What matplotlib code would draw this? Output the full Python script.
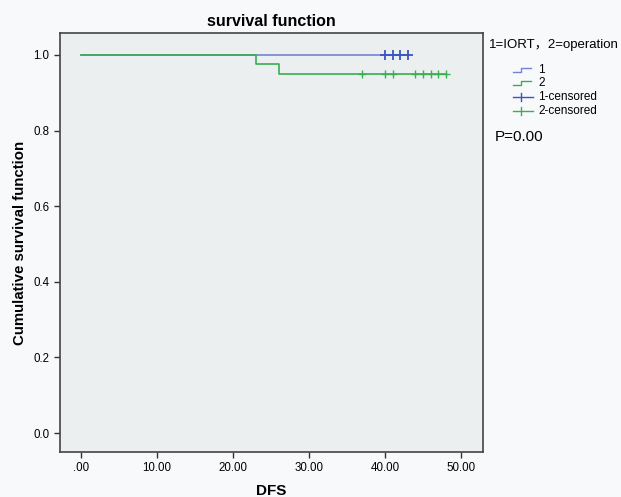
import matplotlib
matplotlib.use('Agg')
import matplotlib.pyplot as plt
from matplotlib.lines import Line2D

plt.rcParams['font.family'] = ['Liberation Sans', 'Noto Sans CJK SC', 'DejaVu Sans']

# Kaplan-Meier steps (time, survival) and censored times
g1_times = [0, 43]
g1_surv = [1.0, 1.0]
g1_cens = [40, 41, 42, 43]

g2_times = [0, 23, 26, 48]
g2_surv = [1.0, 0.975, 0.95, 0.95]
g2_cens = [37, 40, 41, 44, 45, 46, 47, 48]

xticks = [0, 10, 20, 30, 40, 50]
xlabels = ['.00', '10.00', '20.00', '30.00', '40.00', '50.00']
yticks = [0.0, 0.2, 0.4, 0.6, 0.8, 1.0]

c1_line = '#7383d6'
c1_mark = '#3a55c0'
c2 = '#3aae52'

fig = plt.figure(figsize=(6.21, 4.97), dpi=100, facecolor='#f8f9fb')
ax = fig.add_axes([0.0966, 0.0905, 0.6812, 0.8431])
ax.set_facecolor('#eceff0')

ax.step(g1_times, g1_surv, where='post', color=c1_line, lw=1.2, zorder=3)
ax.step(g2_times, g2_surv, where='post', color=c2, lw=1.2, zorder=3)
ax.plot(g1_cens, [1.0] * len(g1_cens), ls='none', marker='+', ms=7, mew=1.3, color=c1_mark, zorder=4)
ax.plot(g2_cens, [0.95] * len(g2_cens), ls='none', marker='+', ms=6, mew=1.0, color=c2, zorder=4)

ax.set_xlim(-2.76, 52.9)
ax.set_ylim(-0.05, 1.058)
ax.set_xticks(xticks)
ax.set_xticklabels(xlabels)
ax.set_yticks(yticks)
ax.set_yticklabels([f'{v:.1f}' for v in yticks])
ax.tick_params(direction='out', length=4, width=1, labelsize=8.3, color='#333333')
for s in ax.spines.values():
    s.set_color('#444444')
    s.set_linewidth(1.2)

ax.set_title('survival function', fontsize=11.5, fontweight='bold', pad=5)
ax.set_xlabel('DFS', fontsize=11, fontweight='bold', labelpad=7)
ax.set_ylabel('Cumulative survival function', fontsize=10.8, fontweight='bold', labelpad=5)

# legend drawn by hand, SPSS style
W, H = 621, 497
fig.text(489 / W, 1 - 45 / H, '1=IORT，2=operation', fontsize=9.5, va='center', ha='left')


def fx(p):
    return p / W


def fy(p):
    return 1 - p / H


for yy, col in [(70, c1_line), (83, c2)]:
    xs = [513, 521, 521, 531]
    ys = [yy + 2, yy + 2, yy - 2, yy - 2]
    fig.add_artist(Line2D([fx(v) for v in xs], [fy(v) for v in ys], color=col, lw=1.0))
for yy, col in [(97, c1_mark), (111, c2)]:
    fig.add_artist(Line2D([fx(513), fx(533)], [fy(yy), fy(yy)], color=col, lw=1.0))
    fig.add_artist(Line2D([fx(521), fx(521)], [fy(yy - 4), fy(yy + 4)], color=col, lw=1.0))

for yy, txt in [(70, '1'), (83, '2'), (97, '1-censored'), (111, '2-censored')]:
    fig.text(fx(538), fy(yy), txt, fontsize=8.5, va='center', ha='left')

fig.text(fx(495), fy(137), 'P=0.00', fontsize=11, va='center', ha='left')

fig.savefig('out.png', dpi=100, facecolor=fig.get_facecolor())
